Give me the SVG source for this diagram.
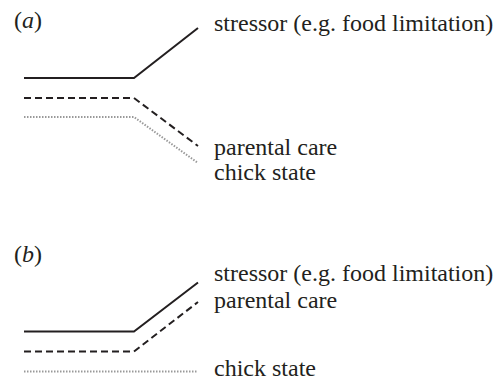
<svg xmlns="http://www.w3.org/2000/svg" width="503" height="383" viewBox="0 0 503 383">
<style>
text{font-family:"Liberation Serif","Times New Roman",serif;font-size:24px;fill:#231f20}
.solid{fill:none;stroke:#231f20;stroke-width:2}
.dash{fill:none;stroke:#231f20;stroke-width:2;stroke-dasharray:7 4}
.dot{fill:none;stroke:#999;stroke-width:2;stroke-dasharray:1.5 1.5}
</style>
<rect width="503" height="383" fill="#fff"/>
<g id="panel-a">
<text x="14" y="28">(<tspan font-style="italic">a</tspan>)</text>
<g id="connectors-a">
<polyline class="solid" points="24,78 134,78 198,28"/>
<polyline class="dash" points="24,98 134,98 198,146"/>
<polyline class="dot" points="24,117 134,117 198,163"/>
</g>
<g id="a-stressor"><text x="214" y="31">stressor (e.g. food limitation)</text></g>
<g id="a-care"><text x="214" y="155">parental care</text></g>
<g id="a-chick"><text x="214" y="180">chick state</text></g>
</g>
<g id="panel-b">
<text x="14" y="262">(<tspan font-style="italic">b</tspan>)</text>
<g id="connectors-b">
<polyline class="solid" points="24,331.5 134,331.5 198,282.5"/>
<polyline class="dash" points="24,351.5 134,351.5 198,302"/>
<polyline class="dot" points="24,371.5 198,371.5"/>
</g>
<g id="b-stressor"><text x="214" y="281">stressor (e.g. food limitation)</text></g>
<g id="b-care"><text x="214" y="308">parental care</text></g>
<g id="b-chick"><text x="214" y="376">chick state</text></g>
</g>
</svg>
